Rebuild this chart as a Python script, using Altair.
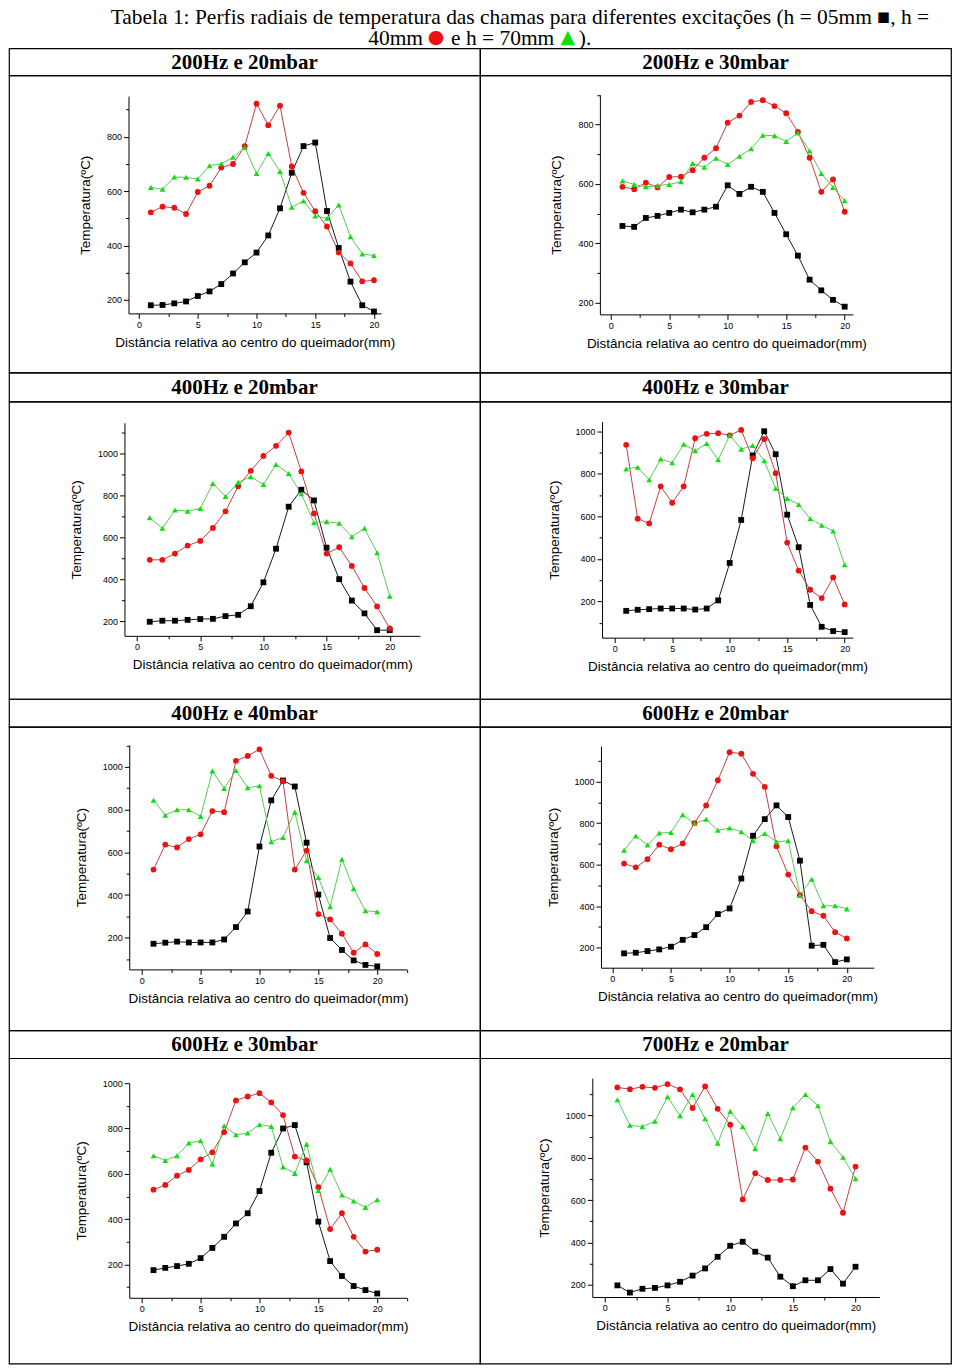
import altair as alt
import pandas as pd

# ---------------- data ----------------
X = list(range(1, 21))
SERIES = ["h = 05mm", "h = 40mm", "h = 70mm"]
TITLES = ["200Hz e 20mbar", "200Hz e 30mbar", "400Hz e 20mbar", "400Hz e 30mbar",
          "400Hz e 40mbar", "600Hz e 20mbar", "600Hz e 30mbar", "700Hz e 20mbar"]

p1_b = [180, 181, 187, 194, 214, 231, 258, 297, 338, 374, 437, 537, 668, 766, 779, 527, 391, 267, 180, 157]
p1_r = [522, 543, 539, 516, 597, 620, 687, 700, 766, 922, 843, 915, 691, 594, 526, 470, 374, 334, 268, 272]
p1_g = [614, 607, 652, 651, 645, 694, 701, 725, 761, 665, 739, 673, 541, 564, 509, 500, 549, 432, 369, 363]

p2_b = [458, 455, 485, 492, 502, 513, 504, 513, 523, 595, 566, 590, 573, 502, 430, 358, 277, 241, 209, 186]
p2_r = [590, 582, 604, 588, 623, 624, 646, 688, 720, 806, 830, 876, 882, 862, 838, 775, 688, 573, 615, 506]
p2_g = [610, 598, 590, 594, 598, 607, 669, 656, 686, 665, 693, 718, 764, 762, 743, 771, 711, 635, 588, 543]

p3_b = [197, 202, 202, 206, 210, 211, 224, 230, 271, 385, 545, 745, 826, 775, 550, 400, 298, 237, 157, 157]
p3_r = [492, 492, 522, 560, 582, 644, 723, 843, 916, 987, 1035, 1098, 913, 713, 522, 552, 463, 358, 270, 165]
p3_g = [693, 642, 729, 724, 737, 856, 794, 861, 888, 851, 946, 903, 807, 669, 674, 666, 602, 642, 526, 319]

p4_b = [156, 161, 164, 167, 167, 167, 162, 167, 205, 381, 583, 886, 1000, 892, 608, 455, 184, 81, 61, 56]
p4_r = [936, 589, 567, 741, 664, 741, 967, 988, 991, 981, 1006, 873, 963, 803, 477, 345, 255, 216, 313, 186]
p4_g = [823, 831, 772, 870, 852, 939, 909, 942, 866, 981, 916, 933, 861, 731, 684, 656, 589, 558, 531, 373]

p5_b = [172, 177, 182, 178, 178, 178, 192, 250, 323, 627, 843, 936, 908, 645, 402, 199, 143, 94, 73, 66]
p5_r = [519, 636, 623, 662, 684, 793, 788, 1028, 1051, 1082, 958, 933, 519, 608, 311, 286, 219, 130, 169, 124]
p5_g = [844, 773, 799, 799, 768, 980, 899, 983, 902, 911, 650, 669, 788, 560, 482, 345, 567, 430, 326, 322]

p6_b = [173, 176, 184, 192, 205, 238, 261, 299, 362, 389, 533, 739, 819, 885, 829, 619, 210, 214, 131, 144]
p6_r = [605, 587, 626, 696, 674, 702, 800, 885, 1006, 1141, 1134, 1037, 974, 688, 552, 453, 376, 354, 275, 245]
p6_g = [669, 738, 694, 752, 755, 840, 798, 818, 765, 776, 758, 715, 750, 709, 715, 453, 530, 402, 402, 387]

p7_b = [175, 185, 193, 203, 228, 273, 322, 381, 426, 524, 693, 800, 815, 651, 389, 215, 149, 105, 87, 72]
p7_r = [530, 551, 592, 617, 664, 695, 784, 924, 941, 956, 915, 859, 676, 659, 541, 356, 426, 322, 257, 265]
p7_g = [680, 659, 680, 736, 746, 643, 812, 772, 780, 817, 809, 630, 602, 731, 526, 620, 507, 480, 452, 486]

p8_b = [197, 163, 181, 185, 197, 214, 243, 277, 332, 384, 403, 356, 328, 238, 193, 221, 221, 274, 205, 285]
p8_r = [1132, 1124, 1135, 1130, 1148, 1123, 1035, 1137, 1031, 956, 603, 727, 695, 695, 697, 848, 782, 654, 540, 758]
p8_g = [1074, 953, 947, 972, 1088, 998, 1099, 984, 868, 1019, 947, 843, 1009, 890, 1036, 1099, 1046, 876, 802, 701]

Y_TITLE = "Temperatura(ºC)"
X_TITLE = "Distância relativa ao centro do queimador(mm)"
TITLE_L1 = "Tabela 1: Perfis radiais de temperatura das chamas para diferentes excitações (h = 05mm ■, h ="
TITLE_L2_WORDS = ["40mm", "e h = 70mm", ")."]
TITLE_L2_SYMS = ["●", "▲"]

# ---------------- styling ----------------
SANS = "Liberation Sans"
SERIF = "Liberation Serif"
CELL_W = 472
F = CELL_W / 478.0
SYM_FILL = ["#000000", "#ee1111", "#11dd11"]
LINE_COL = ["#1a1a1a", "#c24040", "#55cc55"]
SHAPES = ["square", "circle", "triangle-up"]
SIZES = [34, 34, 52]
NOSTROKE = alt.ViewBackground(stroke="transparent")


def panel(b, r, g, cell_left, cell_top, H, x0, xu, xdom, ya, yb, ydom):
    df = pd.DataFrame({
        "x": X * 3,
        "T": b + r + g,
        "s": [SERIES[0]] * 20 + [SERIES[1]] * 20 + [SERIES[2]] * 20,
    })

    def px(v):
        return (x0 + xu * v - cell_left) * F

    def py(v):
        return ya[1] + (v - ya[0]) * (yb[1] - ya[1]) / (yb[0] - ya[0]) - cell_top

    xr = [px(xdom[0]), px(xdom[1])]
    yr = [py(ydom[0]), py(ydom[1])]
    xvals = [k * 2.5 for k in range(0, 12) if xdom[0] <= k * 2.5 <= xdom[1]]
    yvals = [k * 100 for k in range(0, 13) if ydom[0] <= k * 100 <= ydom[1]]

    common = dict(grid=False, domainColor="#000", domainWidth=1, tickColor="#000", tickWidth=1,
                  labelFont=SANS, labelFontSize=9, labelColor="#000", labelOverlap=False,
                  labelFlush=False, titleFont=SANS, titleFontSize=13.5, titleFontWeight="normal",
                  titleColor="#000")
    xaxis = alt.Axis(values=xvals, format="d",
                     labelExpr="datum.value % 5 == 0 ? datum.label : ''",
                     tickSize={"condition": {"test": "datum.value % 5 == 0", "value": 5}, "value": 3},
                     offset=-(H - yr[0]), title=X_TITLE, labelPadding=2, titlePadding=6, **common)
    yaxis = alt.Axis(values=yvals, format="d",
                     labelExpr="datum.value % 200 == 0 ? datum.label : ''",
                     tickSize={"condition": {"test": "datum.value % 200 == 0", "value": 5}, "value": 3},
                     offset=-xr[0], title=Y_TITLE, labelPadding=2, titlePadding=14, **common)
    xs = alt.Scale(domain=xdom, range=xr, nice=False, zero=False)
    ys = alt.Scale(domain=ydom, range=yr, nice=False, zero=False)
    base = alt.Chart(df).encode(
        x=alt.X("x:Q", scale=xs, axis=xaxis),
        y=alt.Y("T:Q", scale=ys, axis=yaxis),
    )
    lines = base.mark_line(strokeWidth=1).encode(
        stroke=alt.Stroke("s:N", scale=alt.Scale(domain=SERIES, range=LINE_COL), legend=None)
    )
    pts = base.mark_point(filled=True, opacity=1, strokeWidth=0).encode(
        fill=alt.Fill("s:N", scale=alt.Scale(domain=SERIES, range=SYM_FILL), legend=None),
        shape=alt.Shape("s:N", scale=alt.Scale(domain=SERIES, range=SHAPES), legend=None),
        size=alt.Size("s:N", scale=alt.Scale(domain=SERIES, range=SIZES), legend=None),
    )
    return alt.layer(lines, pts).properties(width=CELL_W, height=H)


def header(t, H):
    return alt.Chart(alt.Data(values=[{"t": t}])).mark_text(
        font=SERIF, fontSize=21, fontWeight="bold", baseline="middle", align="center", color="#000"
    ).encode(text="t:N", x=alt.value(CELL_W / 2), y=alt.value(H / 2 + 1)).properties(width=CELL_W, height=H)


# title block (left cell holds all title text; right cell is empty)
TSCALE = alt.Scale(domain=[0, 944], range=[0, 944])
t1 = alt.Chart(alt.Data(values=[{"t": TITLE_L1}])).mark_text(
    font=SERIF, fontSize=21.5, baseline="alphabetic", align="center", color="#000"
).encode(text="t:N", x=alt.value(512), y=alt.value(16))
words = alt.Chart(alt.Data(values=[{"t": TITLE_L2_WORDS[0], "xp": 360},
                                   {"t": TITLE_L2_WORDS[1], "xp": 443},
                                   {"t": TITLE_L2_WORDS[2], "xp": 571}])).mark_text(
    baseline="alphabetic", align="left", font=SERIF, fontSize=21.5, color="#000"
).encode(text="t:N", x=alt.X("xp:Q", scale=TSCALE, axis=None), y=alt.value(37))
syms = alt.Chart(alt.Data(values=[{"t": TITLE_L2_SYMS[0], "xp": 428, "c": "#ee1111"},
                                  {"t": TITLE_L2_SYMS[1], "xp": 560, "c": "#11dd11"}])).mark_text(
    baseline="middle", align="center", font="DejaVu Sans", fontSize=19
).encode(text="t:N", x=alt.X("xp:Q", scale=TSCALE, axis=None),
         y=alt.value(29), color=alt.Color("c:N", scale=None, legend=None))
title_left = alt.layer(t1, words, syms).properties(width=CELL_W, height=40, view=NOSTROKE)
title_right = alt.Chart(alt.Data(values=[{"t": " "}])).mark_text(baseline="top").encode(
    text="t:N", x=alt.value(10), y=alt.value(10)
).properties(width=CELL_W, height=40, view=NOSTROKE)

panels = [
    panel(p1_b, p1_r, p1_g, 2, 75, 298, 134.0, 11.92, [-0.9, 20.6], (800, 136.7), (200, 300.0), [150, 950]),
    panel(p2_b, p2_r, p2_g, 480, 75, 298, 612.7, 11.87, [-0.93, 20.7], (800, 124.3), (200, 302.7), [160, 900]),
    panel(p3_b, p3_r, p3_g, 2, 402, 298, 132.0, 12.82, [-1.0, 22.4], (1000, 453.7), (200, 622.0), [130, 1145]),
    panel(p4_b, p4_r, p4_g, 480, 402, 298, 616.7, 11.67, [-1.1, 20.7], (1000, 431.7), (200, 602.3), [30, 1045]),
    panel(p5_b, p5_r, p5_g, 2, 728, 304, 136.7, 11.95, [-1.06, 22.5], (1000, 768.0), (200, 939.3), [52, 1103]),
    panel(p6_b, p6_r, p6_g, 480, 728, 304, 614.3, 11.9, [-0.97, 22.3], (1000, 782.7), (200, 949.3), [104, 1171]),
    panel(p7_b, p7_r, p7_g, 2, 1060, 306, 136.7, 11.95, [-1.06, 22.5], (1000, 1085.0), (200, 1266.7), [53, 1000]),
    panel(p8_b, p8_r, p8_g, 480, 1060, 306, 606.7, 12.72, [-1.0, 21.9], (1000, 1117.3), (200, 1287.0), [142, 1176]),
]
HEAD_H = [27, 29, 28, 28]

cells = [title_left, title_right]
for i in range(4):
    cells += [header(TITLES[2 * i], HEAD_H[i]), header(TITLES[2 * i + 1], HEAD_H[i]),
              panels[2 * i], panels[2 * i + 1]]

chart = alt.concat(*cells, columns=2, spacing=0, bounds="flush").properties(
    padding={"top": -3, "left": 0, "right": 0, "bottom": 0}
).configure_view(stroke="#000", strokeWidth=1.2)

chart.save("out.html", embed_options={"renderer": "svg", "actions": False})
